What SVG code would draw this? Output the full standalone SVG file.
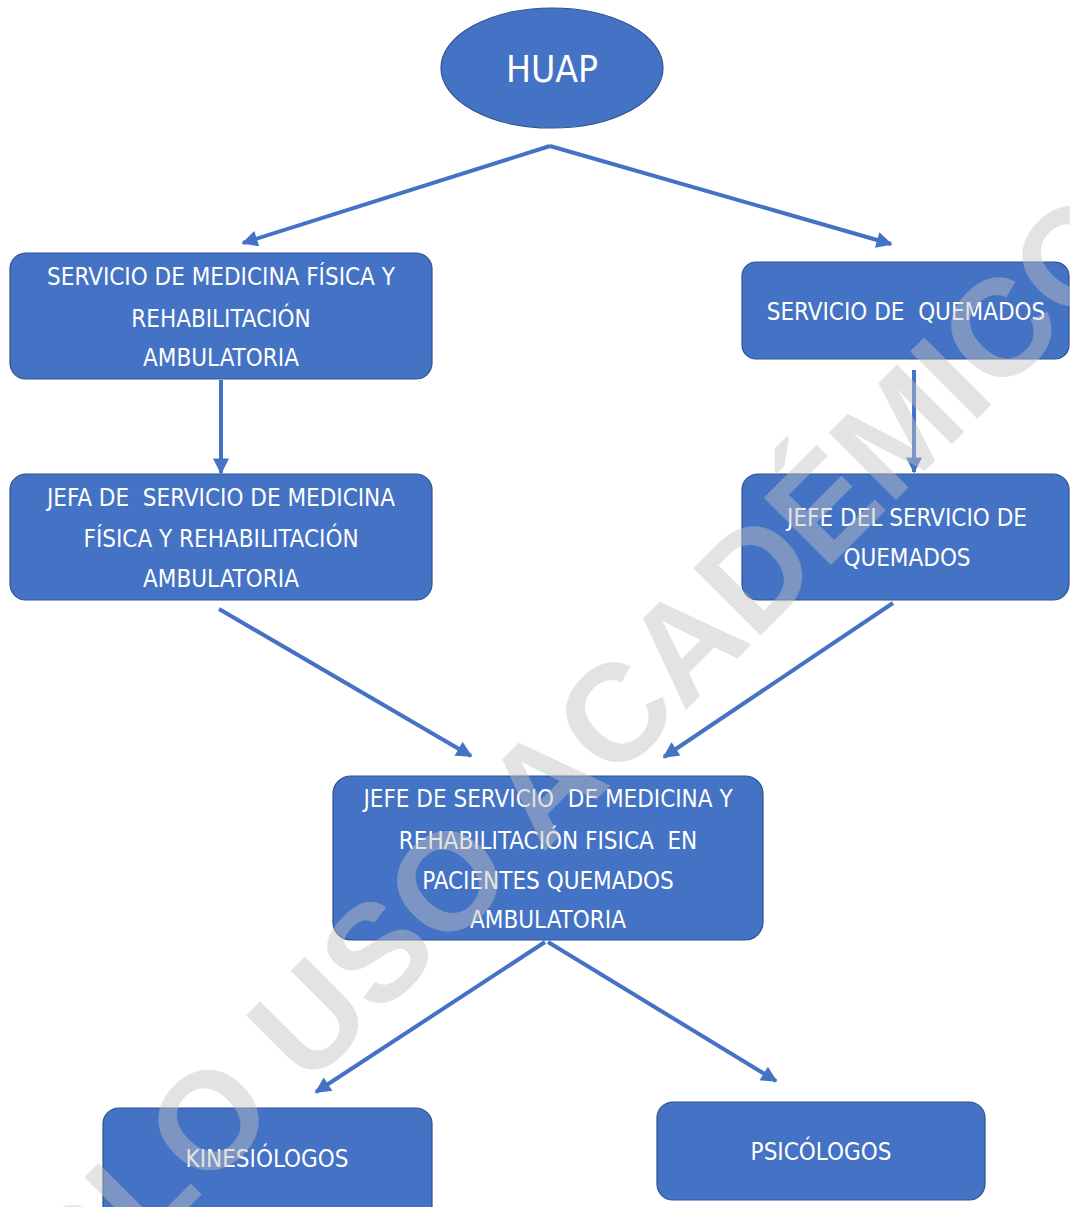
<svg xmlns="http://www.w3.org/2000/svg" width="1070" height="1207" viewBox="0 0 1070 1207">
<style>
.box{fill:#4472c4;stroke:#2f528f;stroke-width:1.2}
.lbl{fill:#ffffff;font-family:"DejaVu Sans Condensed","DejaVu Sans",sans-serif;font-stretch:condensed;font-size:24px;text-anchor:middle}
.con{stroke:#4472c4;stroke-width:4;fill:none;marker-end:url(#ah)}
.wm{fill:#c0c0c0;fill-opacity:0.45;font-family:"Liberation Sans",Arial,sans-serif;font-weight:bold;font-size:138px}
</style>
<defs>
<marker id="ah" viewBox="0 0 10 10" markerUnits="userSpaceOnUse" markerWidth="18" markerHeight="16" refX="9" refY="5" orient="auto">
<path d="M0,0 L10,5 L0,10 z" fill="#4472c4"/>
</marker>
</defs>
<rect width="1070" height="1207" fill="#ffffff"/>
<g id="connectors">
<path class="con" d="M550,146 L243,243"/>
<path class="con" d="M550,146 L891,244"/>
<path class="con" d="M221,380 L221,473"/>
<path class="con" d="M914,370 L914,472"/>
<path class="con" d="M219,609 L471,756"/>
<path class="con" d="M893,603 L664,757"/>
<path class="con" d="M545,942 L316,1092"/>
<path class="con" d="M548,942 L776,1081"/>
</g>
<g id="huap">
<ellipse class="box" cx="552" cy="68" rx="111" ry="60"/>
<text class="lbl" x="552" y="82" style="font-size:37px">HUAP</text>
</g>
<g id="servicio-medicina">
<rect class="box" x="10" y="253" width="422" height="126" rx="16"/>
<text class="lbl" x="221" y="285">SERVICIO DE MEDICINA FÍSICA Y</text>
<text class="lbl" x="221" y="327">REHABILITACIÓN</text>
<text class="lbl" x="221" y="366">AMBULATORIA</text>
</g>
<g id="servicio-quemados">
<rect class="box" x="742" y="262" width="327" height="97" rx="14"/>
<text class="lbl" x="906" y="320" xml:space="preserve">SERVICIO DE  QUEMADOS</text>
</g>
<g id="jefa-medicina">
<rect class="box" x="10" y="474" width="422" height="126" rx="16"/>
<text class="lbl" x="221" y="506" xml:space="preserve">JEFA DE  SERVICIO DE MEDICINA</text>
<text class="lbl" x="221" y="547">FÍSICA Y REHABILITACIÓN</text>
<text class="lbl" x="221" y="587">AMBULATORIA</text>
</g>
<g id="jefe-quemados">
<rect class="box" x="742" y="474" width="327" height="126" rx="16"/>
<text class="lbl" x="907" y="526">JEFE DEL SERVICIO DE</text>
<text class="lbl" x="907" y="566">QUEMADOS</text>
</g>
<g id="jefe-medicina-quemados">
<rect class="box" x="333" y="776" width="430" height="164" rx="18"/>
<text class="lbl" x="548" y="807" xml:space="preserve">JEFE DE SERVICIO  DE MEDICINA Y</text>
<text class="lbl" x="548" y="849" xml:space="preserve">REHABILITACIÓN FISICA  EN</text>
<text class="lbl" x="548" y="889">PACIENTES QUEMADOS</text>
<text class="lbl" x="548" y="928">AMBULATORIA</text>
</g>
<g id="kinesiologos">
<rect class="box" x="103" y="1108" width="329" height="120" rx="16"/>
<text class="lbl" x="267" y="1167">KINESIÓLOGOS</text>
</g>
<g id="psicologos">
<rect class="box" x="657" y="1102" width="328" height="98" rx="16"/>
<text class="lbl" x="821" y="1160">PSICÓLOGOS</text>
</g>
<text class="wm" transform="translate(4,1392) rotate(-45)">SOLO USO ACADÉMICO</text>
</svg>
